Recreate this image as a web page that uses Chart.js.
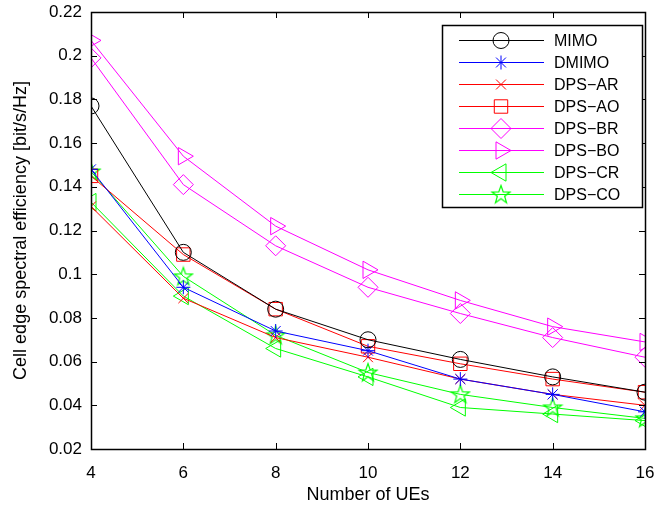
<!DOCTYPE html>
<html>
<head>
<meta charset="utf-8">
<script src="https://cdn.jsdelivr.net/npm/chart.js@4.4.1/dist/chart.umd.min.js"></script>
<style>
  html, body { margin: 0; padding: 0; background: #fff; }
  #wrap { width: 656px; height: 510px; }
</style>
</head>
<body>
<div id="wrap"><canvas id="effChart" width="656" height="510"></canvas></div>
<script>
// data
const numUEs = [4, 6, 8, 10, 12, 14, 16];
const xTicks = [4, 6, 8, 10, 12, 14, 16];
const yTicks = [0.02, 0.04, 0.06, 0.08, 0.1, 0.12, 0.14, 0.16, 0.18, 0.2, 0.22];

const mimo  = [0.177, 0.110, 0.084, 0.070, 0.061, 0.053, 0.046];
const dmimo = [0.148, 0.094, 0.074, 0.065, 0.052, 0.045, 0.037];
const dpsAR = [0.131, 0.089, 0.071, 0.062, 0.052, 0.045, 0.040];
const dpsAO = [0.145, 0.109, 0.084, 0.067, 0.059, 0.052, 0.046];
const dpsBR = [0.199, 0.141, 0.113, 0.094, 0.082, 0.071, 0.062];
const dpsBO = [0.207, 0.154, 0.122, 0.102, 0.088, 0.076, 0.069];
const dpsCR = [0.133, 0.090, 0.066, 0.053, 0.039, 0.036, 0.033];
const dpsCO = [0.147, 0.099, 0.072, 0.055, 0.045, 0.039, 0.034];

const FONT = "'Liberation Sans', Arial, Helvetica, sans-serif";

// pentagram marker (not built into chart.js)
function makeStar(color) {
  const c = document.createElement('canvas');
  c.width = 22; c.height = 22;
  const g = c.getContext('2d');
  g.strokeStyle = color;
  g.lineWidth = 1.2;
  g.beginPath();
  for (let i = 0; i < 10; i++) {
    const r = i % 2 === 0 ? 9.5 : 3.8;
    const a = -Math.PI / 2 + i * Math.PI / 5;
    const px = 11 + r * Math.cos(a), py = 11.5 + r * Math.sin(a);
    if (i === 0) g.moveTo(px, py); else g.lineTo(px, py);
  }
  g.closePath();
  g.stroke();
  return c;
}
const greenStar = makeStar('#00ff00');

function toPts(vals) {
  return vals.map((v, i) => ({ x: numUEs[i], y: v }));
}

const series = [
  { label: 'MIMO',   data: mimo,  color: '#000000', style: 'circle',   radius: 8,   rot: 0 },
  { label: 'DMIMO',  data: dmimo, color: '#0000ff', style: 'star',     radius: 7,   rot: 0 },
  { label: 'DPS\u2212AR', data: dpsAR, color: '#ff0000', style: 'crossRot', radius: 7, rot: 0 },
  { label: 'DPS\u2212AO', data: dpsAO, color: '#ff0000', style: 'rect', radius: 9.5, rot: 0 },
  { label: 'DPS\u2212BR', data: dpsBR, color: '#ff00ff', style: 'rectRot', radius: 10, rot: 0 },
  { label: 'DPS\u2212BO', data: dpsBO, color: '#ff00ff', style: 'triangle', radius: 10, rot: 90 },
  { label: 'DPS\u2212CR', data: dpsCR, color: '#00ff00', style: 'triangle', radius: 10, rot: -90 },
  { label: 'DPS\u2212CO', data: dpsCO, color: '#00ff00', style: greenStar, radius: 9, rot: 0 }
];

// inward ticks + full box, matlab style
const boxTicks = {
  id: 'boxTicks',
  afterDatasetsDraw(chart) {
    const { ctx, chartArea: a, scales } = chart;
    ctx.save();
    ctx.strokeStyle = '#000';
    ctx.lineWidth = 1;
    const tl = 6;
    ctx.beginPath();
    xTicks.forEach(v => {
      const px = Math.round(scales.x.getPixelForValue(v)) + 0.5;
      ctx.moveTo(px, a.bottom); ctx.lineTo(px, a.bottom - tl);
      ctx.moveTo(px, a.top); ctx.lineTo(px, a.top + tl);
    });
    yTicks.forEach(v => {
      const py = Math.round(scales.y.getPixelForValue(v)) + 0.5;
      ctx.moveTo(a.left, py); ctx.lineTo(a.left + tl, py);
      ctx.moveTo(a.right, py); ctx.lineTo(a.right - tl, py);
    });
    ctx.stroke();
    ctx.lineWidth = 1.5;
    ctx.strokeRect(Math.round(a.left) + 0.5, Math.round(a.top) + 0.5,
      Math.round(a.right - a.left), Math.round(a.bottom - a.top));
    ctx.restore();
  }
};

// legend box with line through marker
const matLegend = {
  id: 'matLegend',
  afterDraw(chart) {
    const ctx = chart.ctx;
    const bx = 442, by = 25, bw = 200, bh = 182;
    ctx.save();
    ctx.fillStyle = '#fff';
    ctx.fillRect(bx, by, bw, bh);
    ctx.strokeStyle = '#000';
    ctx.lineWidth = 1.5;
    ctx.strokeRect(bx + 0.5, by + 0.5, bw, bh);
    ctx.font = '16px ' + FONT;
    ctx.textBaseline = 'middle';
    series.forEach((s, i) => {
      const y = by + 15.5 + i * 22;
      ctx.strokeStyle = s.color;
      ctx.lineWidth = 1;
      ctx.beginPath();
      ctx.moveTo(459, y); ctx.lineTo(544, y);
      ctx.stroke();
      ctx.fillStyle = 'rgba(0,0,0,0)';
      Chart.helpers.drawPoint(ctx, {
        pointStyle: s.style, radius: s.radius, rotation: s.rot, borderWidth: 1
      }, 501, y);
      ctx.fillStyle = '#000';
      ctx.fillText(s.label, 554, y + 1);
    });
    ctx.restore();
  }
};

const ctxEff = document.getElementById('effChart');

new Chart(ctxEff, {
  type: 'line',
  data: {
    datasets: series.map(s => ({
      label: s.label,
      data: toPts(s.data),
      borderColor: s.color,
      backgroundColor: 'rgba(0,0,0,0)',
      borderWidth: 1,
      pointStyle: s.style,
      pointRadius: s.radius,
      pointRotation: s.rot,
      pointBorderColor: s.color,
      pointBackgroundColor: 'rgba(0,0,0,0)',
      pointBorderWidth: 1,
      tension: 0,
      fill: false
    }))
  },
  options: {
    responsive: false,
    animation: false,
    events: [],
    layout: { padding: { top: 12, right: 10, left: 0, bottom: 0 } },
    plugins: {
      legend: { display: false },
      tooltip: { enabled: false }
    },
    scales: {
      x: {
        type: 'linear',
        min: 4, max: 16,
        afterBuildTicks: sc => { sc.ticks = xTicks.map(v => ({ value: v })); },
        afterFit: sc => { sc.height = 61; sc.paddingRight = 0; sc.paddingLeft = 0; },
        grid: { display: false },
        border: { display: false },
        ticks: {
          color: '#000', padding: 6,
          font: { family: FONT, size: 17 },
          maxRotation: 0
        },
        title: {
          display: true, text: 'Number of UEs', color: '#000',
          font: { family: FONT, size: 18 },
          padding: { top: 6 }
        }
      },
      y: {
        min: 0.02, max: 0.22,
        afterBuildTicks: sc => { sc.ticks = yTicks.map(v => ({ value: v })); },
        afterFit: sc => { sc.width = 91; },
        grid: { display: false },
        border: { display: false },
        ticks: {
          color: '#000', padding: 1,
          font: { family: FONT, size: 17 },
          callback: v => String(parseFloat(v.toFixed(2)))
        },
        title: {
          display: true, text: 'Cell edge spectral efficiency [bit/s/Hz]', color: '#000',
          font: { family: FONT, size: 18 },
          padding: { bottom: 0, top: 10 }
        }
      }
    }
  },
  plugins: [boxTicks, matLegend]
});
</script>
</body>
</html>
